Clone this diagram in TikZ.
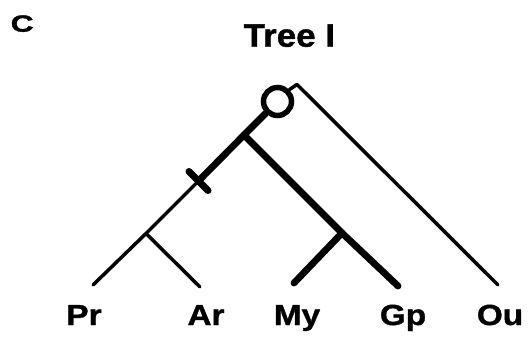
\documentclass[tikz,border=0pt]{standalone}
\usepackage{fontspec}
\setmainfont{Liberation Sans}
\newfontfamily\labelfont[FakeStretch=1.15,FakeBold=1.2]{Liberation Sans Bold}
\newfontfamily\titlefont[FakeStretch=1.08,FakeBold=1.2]{Liberation Sans Bold}
\newfontfamily\panelfont[FakeStretch=1.35,FakeBold=1.4]{Liberation Sans Bold}
\usetikzlibrary{calc}
\begin{document}
\begin{tikzpicture}[x=1pt,y=-1pt,
  thinline/.style={line width=3.5pt,line cap=round,line join=round},
  thickline/.style={line width=6.8pt,line cap=round,line join=round},
  taxon/.style={font=\labelfont\fontsize{29}{29}\selectfont,anchor=base,inner sep=0pt},
  rootmark/.style={circle,draw,line width=5.5pt,minimum size=28pt,inner sep=0pt}]
\useasboundingbox (0,0) rectangle (530,339);
% titles
\node[font=\panelfont\fontsize{23.5}{23.5}\selectfont,anchor=base west,inner sep=0pt] (panel) at (10.5,31.7) {C};
\node[font=\titlefont\fontsize{32.4}{32.4}\selectfont,anchor=base west,inner sep=0pt] (title) at (243.5,46.7) {Tree I};
% root marker
\node[rootmark] (O) at (277.5,101.5) {};
% internal points
\coordinate (J1) at (244,135);
\coordinate (X) at (198.5,181);
\coordinate (J2) at (146,233.5);
\coordinate (J3) at (342,233);
\coordinate (K) at (297,84.5);
% tips
\coordinate (tPr) at (93,285);
\coordinate (tAr) at (200,287);
\coordinate (tMy) at (294,283);
\coordinate (tGp) at (398,286);
\coordinate (tOu) at (498,285);
% branches
\draw[thickline] (O.225) -- (J1) -- (X);
\draw[thinline] (X) -- (J2) -- (tPr);
\draw[thinline] (J2) -- (tAr);
\draw[thickline] (J1) -- (J3) -- (tGp);
\draw[thickline] (J3) -- (tMy);
\draw[thinline] (O.45) -- (K) -- (tOu);
% character tick
\draw[line width=7pt,line cap=round] ($(X)+(-9.5,-9.5)$) -- ($(X)+(9.5,9.5)$);
% taxa
\node[taxon] (Pr) at (84,325) {Pr};
\node[taxon] (Ar) at (206,325) {Ar};
\node[taxon] (My) at (297,325) {My};
\node[taxon] (Gp) at (403,325) {Gp};
\node[taxon] (Ou) at (500,325) {Ou};
\end{tikzpicture}
\end{document}
